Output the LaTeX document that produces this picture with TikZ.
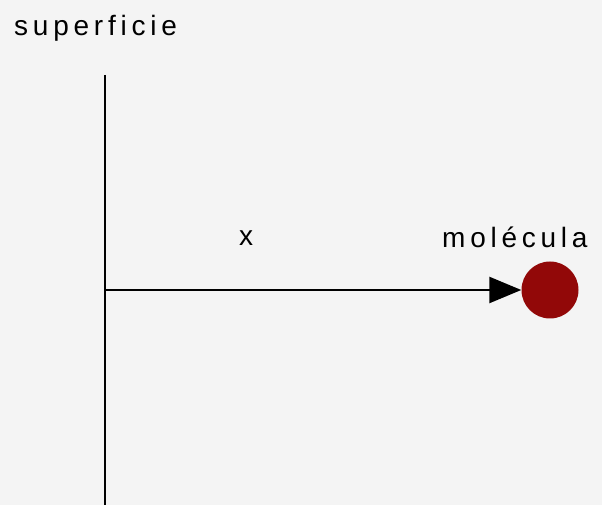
\documentclass[tikz,border=0pt]{standalone}
\usepackage{xcolor}
\usepackage{fontspec}
\setmainfont{Liberation Sans}
\newfontfamily\labelfont[LetterSpace=17]{Liberation Sans}
\usetikzlibrary{arrows.meta}
\definecolor{MolRed}{HTML}{920808}
\definecolor{PageGray}{HTML}{F4F4F4}

\begin{document}
\begin{tikzpicture}[x=1pt,y=1pt]
  \def\W{602} \def\H{505}

  % ----- BACKGROUND -----
  \fill[PageGray] (0,0) rectangle (\W,\H);
  \useasboundingbox (0,0) rectangle (\W,\H);
  \tikzset{lbl/.style={font=\labelfont\fontsize{28}{32}\selectfont, inner sep=0pt}}

  % ----- SURFACE -----
  \coordinate (top) at (105,430);
  \coordinate (bot) at (105,0);
  \coordinate (orig) at (105,215);
  \draw[line width=2.5pt] (top) -- (bot);

  % ----- MOLECULE AND DISTANCE -----
  \node[circle, fill=MolRed, minimum size=57pt, inner sep=0pt] (mol) at (550,215) {};
  \draw[line width=2.5pt, -{Triangle[length=32pt,width=26pt]}] (orig) -- (mol.west);

  % labels
  \node[lbl, anchor=base west] (surf) at (14,469) {superficie};
  \node[lbl, anchor=base] (dist) at (246,259) {x};
  \node[lbl, anchor=base west] (mollbl) at (442,257) {molécula};
\end{tikzpicture}
\end{document}
